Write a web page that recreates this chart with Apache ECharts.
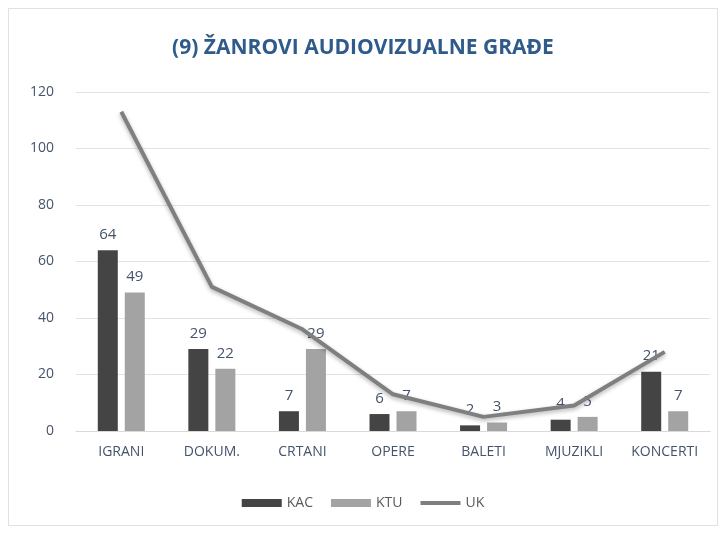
<!DOCTYPE html>
<html lang="hr">
<head>
    <meta charset="UTF-8">
    <title>Žanrovi audiovizualne građe</title>
    <style>
    body{
    margin:0;
    background:#fff;
}
 #main{
    position:absolute;
    left:8px;
    top:8px;
    width:710px;
    height:518px;
    border:1px solid #e2e2e2;
    box-sizing:border-box;
}
    </style>
</head>
<body>
    <div id="main"></div>
    <script src="https://cdn.jsdelivr.net/npm/echarts@6/dist/echarts.min.js"></script>
    <script>
    var categories = ['IGRANI', 'DOKUM.', 'CRTANI', 'OPERE', 'BALETI', 'MJUZIKLI', 'KONCERTI'];
    var kac = [64, 29, 7, 6, 2, 4, 21];
    var ktu = [49, 22, 29, 7, 3, 5, 7];
    var uk = [113, 51, 36, 13, 5, 9, 28];

    var labelColor = '#44546a';
    var fontName = '"Open Sans", "DejaVu Sans", sans-serif';

    var myChart = echarts.init(document.getElementById('main'));
    var option = {
        animation: false,
        title: {
            text: '(9) ŽANROVI AUDIOVIZUALNE GRAĐE',
            left: 'center',
            top: 24,
            textStyle: {
                color: '#2f5b8a',
                fontSize: 21,
                fontWeight: 'bold',
                fontFamily: fontName
            }
        },
        legend: {
            bottom: 10,
            left: 'center',
            itemWidth: 40,
            itemHeight: 8,
            itemGap: 18,
            textStyle: {color: '#595959', fontSize: 14, fontFamily: fontName},
            data: [
                {name: 'KAC', icon: 'rect'},
                {name: 'KTU', icon: 'rect'},
                {name: 'UK', icon: 'path://M0,0 H40 V4 H0 Z'}
            ]
        },
        grid: {
            left: 67,
            right: 7,
            top: 83,
            bottom: 94
        },
        xAxis: {
            type: 'category',
            data: categories,
            axisLine: {lineStyle: {color: '#d9d9d9'}},
            axisTick: {show: false},
            axisLabel: {color: '#44546a', fontSize: 14, margin: 14, fontFamily: fontName}
        },
        yAxis: {
            type: 'value',
            min: 0,
            max: 120,
            interval: 20,
            axisLine: {show: false},
            axisTick: {show: false},
            splitLine: {lineStyle: {color: '#e3e3e3'}},
            axisLabel: {color: '#44546a', fontSize: 14, margin: 22, fontFamily: fontName}
        },
        series: [
            {
                name: 'KAC',
                type: 'bar',
                data: kac,
                barWidth: 20,
                barGap: '35%',
                itemStyle: {color: '#444444'},
                label: {show: true, position: 'top', distance: 8, color: labelColor, fontSize: 15, fontFamily: fontName}
            },
            {
                name: 'KTU',
                type: 'bar',
                data: ktu,
                barWidth: 20,
                itemStyle: {color: '#a3a3a3'},
                label: {show: true, position: 'top', distance: 8, color: labelColor, fontSize: 15, fontFamily: fontName}
            },
            {
                name: 'UK',
                type: 'line',
                data: uk,
                symbol: 'none',
                lineStyle: {color: '#7f7f7f', width: 4, shadowColor: 'rgba(0,0,0,0.3)', shadowBlur: 4, shadowOffsetY: 2},
                itemStyle: {color: '#7f7f7f'},
                z: 3
            }
        ]
    };
    myChart.setOption(option);
    </script>
</body>
</html>
